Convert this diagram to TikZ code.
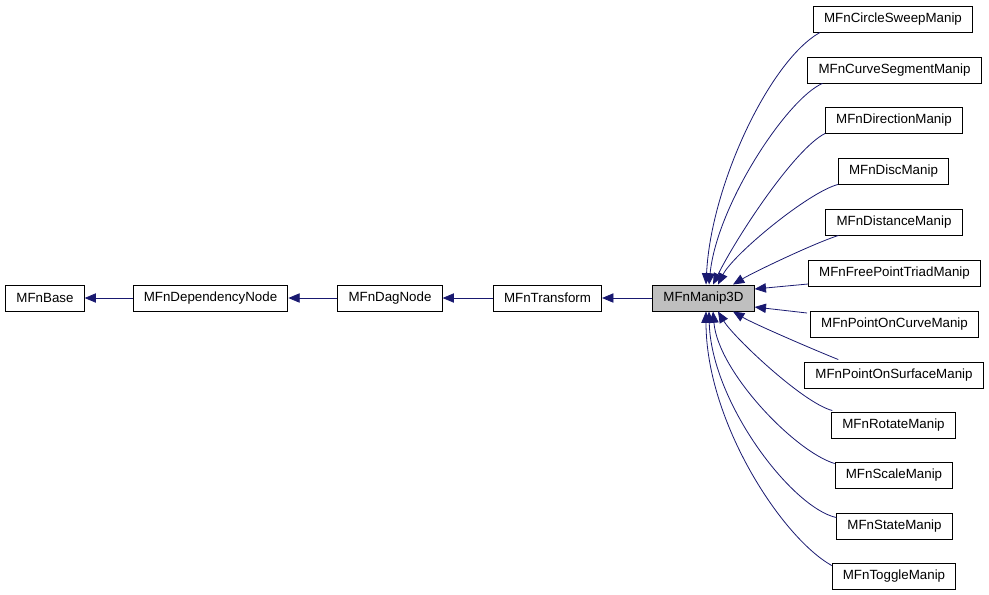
\documentclass[tikz,border=0pt]{standalone}
\usepackage{fontspec}
\setmainfont{Liberation Sans}
\usetikzlibrary{arrows.meta,calc}
\definecolor{edgeblue}{RGB}{25,25,112}
\definecolor{curgray}{RGB}{191,191,191}
\tikzset{
  cls/.style={draw=black,fill=white,line width=0.7pt,inner xsep=8pt,inner ysep=2pt,
    minimum height=19.5pt,font=\fontsize{10}{12}\selectfont},
  cur/.style={cls,fill=curgray},
  inherit/.style={draw=edgeblue,line width=0.6pt,
    -{Triangle[length=8.5pt,width=7pt,fill=edgeblue]}}
}
\begin{document}
\begin{tikzpicture}[x=0.75pt,y=-0.75pt]
\useasboundingbox (0,0) rectangle (989,594);
\node[cls] (base) at (45,298) {MFnBase};
\node[cls] (dep) at (210.5,298) {MFnDependencyNode};
\node[cls] (dag) at (390,298) {MFnDagNode};
\node[cls] (trans) at (547.5,298) {MFnTransform};
\node[cur] (m3d) at (703.5,298) {MFnManip3D};
% derived manipulators
\node[cls] (circ) at (893,19) {MFnCircleSweepManip};
\node[cls] (cseg) at (894.5,70) {MFnCurveSegmentManip};
\node[cls] (dir) at (894,120) {MFnDirectionManip};
\node[cls] (disc) at (893.5,171) {MFnDiscManip};
\node[cls] (dist) at (894,222) {MFnDistanceManip};
\node[cls] (fpt) at (894.5,273) {MFnFreePointTriadManip};
\node[cls] (poc) at (894.5,324) {MFnPointOnCurveManip};
\node[cls] (pos) at (894,375) {MFnPointOnSurfaceManip};
\node[cls] (rot) at (893.5,425) {MFnRotateManip};
\node[cls] (scl) at (894,475) {MFnScaleManip};
\node[cls] (stat) at (894.5,526) {MFnStateManip};
\node[cls] (tog) at (894,576) {MFnToggleManip};
% base chain
\draw[inherit] (dep) -- (base);
\draw[inherit] (dag) -- (dep);
\draw[inherit] (trans) -- (dag);
\draw[inherit] (m3d) -- (trans);
% upper curves
\draw[inherit] ($(circ.south west)+(7,0)$) .. controls +(-50,28) and +(5,-100) .. ($(m3d.north)+(2.5,0)$);
\draw[inherit] ($(cseg.south west)+(15,0)$) .. controls +(-35,15) and +(8,-80) .. ($(m3d.north)+(5.5,0)$);
\draw[inherit] ($(dir.south west)+(0,0)$) .. controls +(-30,15) and +(25,-50) .. ($(m3d.north)+(9.5,0)$);
\draw[inherit] ($(disc.south west)+(0,0)$) .. controls +(-30,8) and +(15,-30) .. ($(m3d.north)+(14.5,0)$);
\draw[inherit] ($(dist.south west)+(13,0)$) .. controls +(-25,8) and +(20,-12) .. ($(m3d.north)+(29.5,0)$);
% side lines
\draw[inherit] ($(fpt.west)+(0,11)$) -- ($(m3d.east)+(0,-9)$);
\draw[inherit] ($(poc.west)+(-3,-11)$) -- ($(m3d.east)+(0,9)$);
% lower curves
\draw[inherit] ($(pos.north west)+(34,-2)$) .. controls +(-25,-10) and +(20,12) .. ($(m3d.south)+(29.5,0)$);
\draw[inherit] ($(rot.north west)+(1,-1)$) .. controls +(-30,-8) and +(15,25) .. ($(m3d.south)+(14.5,0)$);
\draw[inherit] ($(scl.north west)+(0,2)$) .. controls +(-40,-12) and +(5,60) .. ($(m3d.south)+(9.5,0)$);
\draw[inherit] ($(stat.north west)+(0,5)$) .. controls +(-45,-10) and +(2,90) .. ($(m3d.south)+(5.5,0)$);
\draw[inherit] ($(tog.north west)+(0,3)$) .. controls +(-50,-28) and +(0,110) .. ($(m3d.south)+(2.5,0)$);
\end{tikzpicture}
\end{document}
